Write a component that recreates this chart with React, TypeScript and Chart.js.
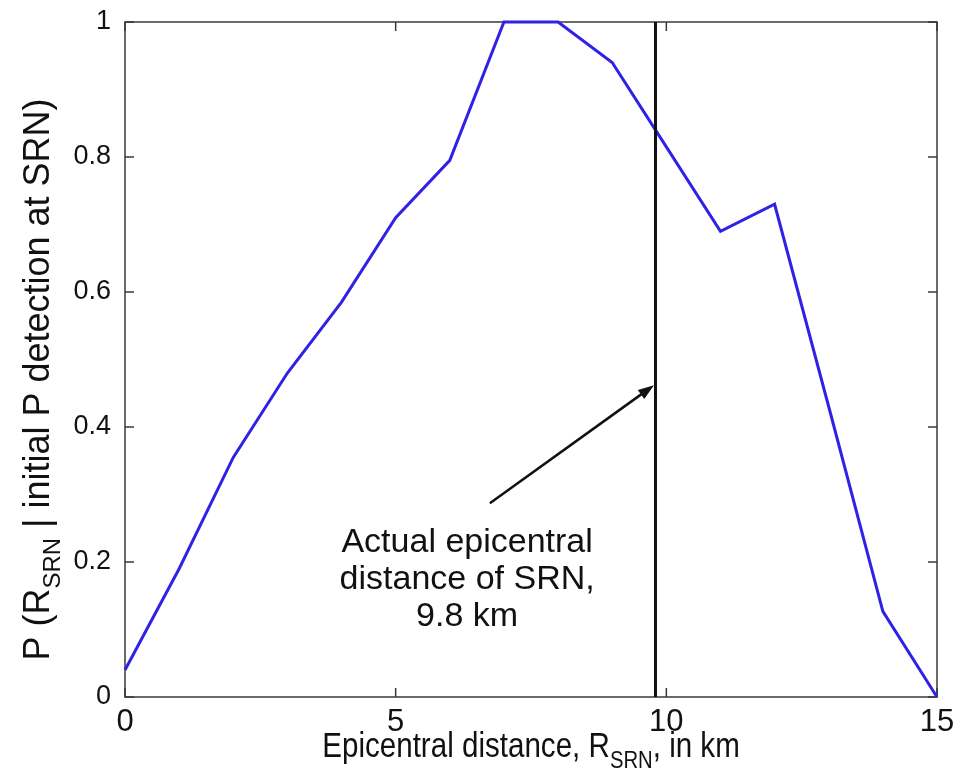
import React, { useEffect, useRef } from "react";
import { Chart, registerables } from "chart.js";

Chart.register(...registerables);

// ---- data ----
const distanceKm = [0, 1, 2, 3, 4, 5, 6, 7, 8, 9, 10, 11, 12, 13, 14, 15];
const probability = [0.04, 0.19, 0.355, 0.48, 0.585, 0.71, 0.795, 1, 1, 0.94, 0.815, 0.69, 0.73, 0.43, 0.127, 0];
const xTickValues = [0, 5, 10, 15];
const xTickLabels = ["0", "5", "10", "15"];
const yTickValues = [0, 0.2, 0.4, 0.6, 0.8, 1];
const yTickLabels = ["0", "0.2", "0.4", "0.6", "0.8", "1"];
const actualDistanceKm = 9.8;
const arrowTail = [6.74, 0.287];
const arrowHead = [9.8, 0.462];
const annotationCenter = [6.32, 0.228];
const annotationLines = ["Actual epicentral", "distance of SRN,", "9.8 km"];

type Part = { t: string; sub?: boolean };
const xTitleParts: Part[] = [
  { t: "Epicentral distance, R" },
  { t: "SRN", sub: true },
  { t: ", in km" },
];
const yTitleParts: Part[] = [
  { t: "P (R" },
  { t: "SRN", sub: true },
  { t: " | initial P detection at SRN)" },
];

const SANS = '"Liberation Sans", Arial, Helvetica, sans-serif';

function drawRich(
  ctx: CanvasRenderingContext2D,
  parts: Part[],
  x: number,
  y: number,
  size: number,
  family: string,
  stretch: number
) {
  const subSize = Math.round(size * 0.68);
  const widths = parts.map((p) => {
    ctx.font = `${p.sub ? subSize : size}px ${family}`;
    return ctx.measureText(p.t).width;
  });
  const total = widths.reduce((a, b) => a + b, 0);
  ctx.save();
  ctx.translate(x, y);
  ctx.scale(stretch, 1);
  let cx = -total / 2;
  ctx.textAlign = "left";
  ctx.textBaseline = "alphabetic";
  parts.forEach((p, i) => {
    ctx.font = `${p.sub ? subSize : size}px ${family}`;
    ctx.fillText(p.t, cx, p.sub ? size * 0.3 : 0);
    cx += widths[i];
  });
  ctx.restore();
}

const decorations = {
  id: "decorations",
  beforeDatasetsDraw(chart: any) {
    const { ctx, chartArea: a, scales } = chart;
    const x = scales.x;
    const y = scales.y;
    ctx.save();
    ctx.strokeStyle = "#3a3a3a";
    ctx.lineWidth = 1.5;
    ctx.strokeRect(a.left, a.top, a.right - a.left, a.bottom - a.top);
    const L = 9;
    ctx.beginPath();
    xTickValues.forEach((v) => {
      const px = x.getPixelForValue(v);
      ctx.moveTo(px, a.bottom);
      ctx.lineTo(px, a.bottom - L);
      ctx.moveTo(px, a.top);
      ctx.lineTo(px, a.top + L);
    });
    yTickValues.forEach((v) => {
      const py = y.getPixelForValue(v);
      ctx.moveTo(a.left, py);
      ctx.lineTo(a.left + L, py);
      ctx.moveTo(a.right, py);
      ctx.lineTo(a.right - L, py);
    });
    ctx.stroke();
    ctx.restore();
  },
  afterDatasetsDraw(chart: any) {
    const { ctx, chartArea: a, scales } = chart;
    const x = scales.x;
    const y = scales.y;
    ctx.save();
    // vertical marker line
    const vx = x.getPixelForValue(actualDistanceKm);
    ctx.strokeStyle = "#111";
    ctx.lineWidth = 3;
    ctx.beginPath();
    ctx.moveTo(vx, a.top);
    ctx.lineTo(vx, a.bottom);
    ctx.stroke();
    // arrow
    const x0 = x.getPixelForValue(arrowTail[0]);
    const y0 = y.getPixelForValue(arrowTail[1]);
    const x1 = x.getPixelForValue(arrowHead[0]) - 1.5;
    const y1 = y.getPixelForValue(arrowHead[1]);
    const ang = Math.atan2(y1 - y0, x1 - x0);
    const hl = 16;
    const hw = 5.5;
    ctx.lineWidth = 2.5;
    ctx.beginPath();
    ctx.moveTo(x0, y0);
    ctx.lineTo(x1 - Math.cos(ang) * hl * 0.8, y1 - Math.sin(ang) * hl * 0.8);
    ctx.stroke();
    ctx.fillStyle = "#111";
    ctx.beginPath();
    ctx.moveTo(x1, y1);
    ctx.lineTo(x1 - Math.cos(ang) * hl - Math.sin(ang) * hw, y1 - Math.sin(ang) * hl + Math.cos(ang) * hw);
    ctx.lineTo(x1 - Math.cos(ang) * hl + Math.sin(ang) * hw, y1 - Math.sin(ang) * hl - Math.cos(ang) * hw);
    ctx.closePath();
    ctx.fill();
    // annotation text
    const tx = x.getPixelForValue(annotationCenter[0]);
    const ty = y.getPixelForValue(annotationCenter[1]);
    ctx.font = `34px ${SANS}`;
    ctx.textAlign = "center";
    ctx.textBaseline = "middle";
    annotationLines.forEach((line, i) => {
      ctx.fillText(line, tx, ty + i * 37);
    });
    // axis titles
    ctx.fillStyle = "#111";
    drawRich(ctx, xTitleParts, (a.left + a.right) / 2, 757, 35, SANS, 0.845);
    ctx.save();
    ctx.translate(49, (a.top + a.bottom) / 2 + 20);
    ctx.rotate(-Math.PI / 2);
    drawRich(ctx, yTitleParts, 0, 0, 36, SANS, 1);
    ctx.restore();
    ctx.restore();
  },
};

export default function App() {
  const canvasRef = useRef<HTMLCanvasElement | null>(null);

  useEffect(() => {
    const canvas = canvasRef.current;
    if (!canvas) return;
    const chart = new Chart(canvas, {
      type: "line",
      data: {
        datasets: [
          {
            data: distanceKm.map((d, i) => ({ x: d, y: probability[i] })),
            borderColor: "#2f22e6",
            borderWidth: 3,
            pointRadius: 0,
            tension: 0,
            fill: false,
            clip: false as any,
          },
        ],
      },
      options: {
        animation: false,
        responsive: false,
        devicePixelRatio: 1,
        layout: { padding: { left: 0, top: 22, right: 23, bottom: 0 } },
        plugins: { legend: { display: false }, tooltip: { enabled: false } },
        scales: {
          x: {
            type: "linear",
            position: "bottom",
            min: 0,
            max: 15,
            grid: { display: false, drawTicks: false },
            border: { display: false },
            afterBuildTicks: (s: any) => {
              s.ticks = xTickValues.map((v) => ({ value: v }));
            },
            afterFit: (s: any) => {
              s.height = 83;
              s.paddingLeft = 0;
              s.paddingRight = 0;
            },
            ticks: {
              autoSkip: false,
              maxRotation: 0,
              padding: 7,
              color: "#111",
              font: { family: SANS, size: 31 },
              callback: (_v: any, i: number) => xTickLabels[i],
            },
          },
          y: {
            type: "linear",
            position: "left",
            min: 0,
            max: 1,
            grid: { display: false, drawTicks: false },
            border: { display: false },
            afterBuildTicks: (s: any) => {
              s.ticks = yTickValues.map((v) => ({ value: v }));
            },
            afterFit: (s: any) => {
              s.width = 125;
              s.paddingTop = 0;
              s.paddingBottom = 0;
            },
            ticks: {
              autoSkip: false,
              padding: 14,
              color: "#111",
              font: { family: SANS, size: 27 },
              callback: (_v: any, i: number) => yTickLabels[i],
            },
          },
        },
      },
      plugins: [decorations],
    });
    return () => chart.destroy();
  }, []);

  return (
    <div style={{ position: "absolute", left: 0, top: 0, width: 960, height: 780, background: "#fff" }}>
      <canvas ref={canvasRef} width={960} height={780} style={{ width: 960, height: 780, display: "block" }} />
    </div>
  );
}
